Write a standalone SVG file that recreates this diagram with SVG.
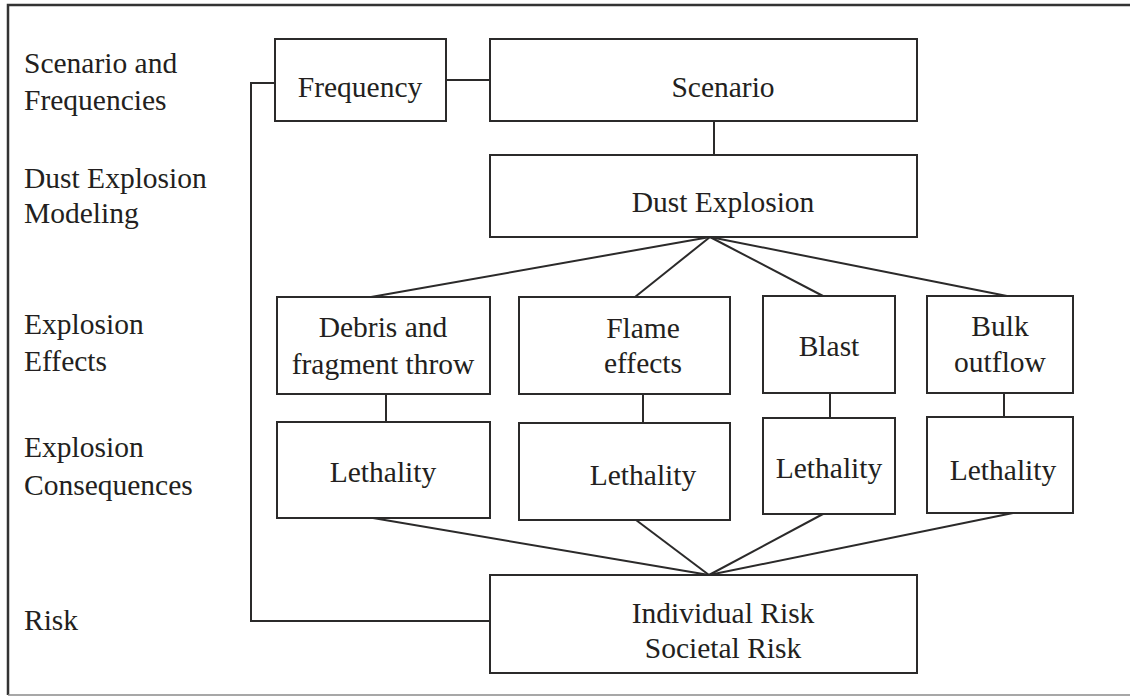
<svg xmlns="http://www.w3.org/2000/svg" width="1130" height="696" viewBox="0 0 1130 696">
  <style>
    .box { fill: #ffffff; stroke: #2b2a2a; stroke-width: 2; }
    .link { fill: none; stroke: #2b2a2a; stroke-width: 2; }
    .label { font-family: "Liberation Serif", "Times New Roman", serif; font-size: 29.5px; fill: #231f20; }
    .mid { text-anchor: middle; }
  </style>
  <rect width="1130" height="696" fill="#ffffff"/>

  <!-- outer frame -->
  <path d="M1132,5 H8 V695" fill="none" stroke="#333333" stroke-width="2.5"/>
  <path d="M8,695 H1132" fill="none" stroke="#8a8a8a" stroke-width="1.5"/>

  <!-- stage labels -->
  <g id="stage-labels" class="label">
    <text x="24" y="73">Scenario and</text>
    <text x="24" y="110">Frequencies</text>
    <text x="24" y="188">Dust Explosion</text>
    <text x="24" y="223">Modeling</text>
    <text x="24" y="334">Explosion</text>
    <text x="24" y="371">Effects</text>
    <text x="24" y="457">Explosion</text>
    <text x="24" y="495">Consequences</text>
    <text x="24" y="630">Risk</text>
  </g>

  <!-- connectors -->
  <g id="connectors" class="link">
    <line x1="446" y1="80" x2="490" y2="80"/>
    <polyline points="275,83 251,83 251,621 490,621"/>
    <line x1="714" y1="121" x2="714" y2="155"/>
    <line x1="710" y1="237" x2="371" y2="297"/>
    <line x1="710" y1="237" x2="635" y2="297"/>
    <line x1="710" y1="237" x2="823" y2="296"/>
    <line x1="710" y1="237" x2="1007" y2="296"/>
    <line x1="386" y1="394" x2="386" y2="422"/>
    <line x1="643" y1="394" x2="643" y2="423"/>
    <line x1="830" y1="393" x2="830" y2="418"/>
    <line x1="1004" y1="393" x2="1004" y2="417"/>
    <line x1="373" y1="518" x2="709" y2="575"/>
    <line x1="636" y1="520" x2="709" y2="575"/>
    <line x1="823" y1="514" x2="709" y2="575"/>
    <line x1="1013" y1="513" x2="709" y2="575"/>
  </g>

  <!-- nodes -->
  <g id="frequency">
    <rect class="box" x="275" y="39" width="171" height="82"/>
    <text class="label mid" x="360" y="97">Frequency</text>
  </g>
  <g id="scenario">
    <rect class="box" x="490" y="39" width="427" height="82"/>
    <text class="label mid" x="723" y="97">Scenario</text>
  </g>
  <g id="dust-explosion">
    <rect class="box" x="490" y="155" width="427" height="82"/>
    <text class="label mid" x="723" y="212">Dust Explosion</text>
  </g>

  <g id="debris">
    <rect class="box" x="277" y="297" width="213" height="97"/>
    <text class="label mid" x="383" y="337">Debris and</text>
    <text class="label mid" x="383" y="374">fragment throw</text>
  </g>
  <g id="flame">
    <rect class="box" x="519" y="297" width="211" height="97"/>
    <text class="label mid" x="643" y="338">Flame</text>
    <text class="label mid" x="643" y="373">effects</text>
  </g>
  <g id="blast">
    <rect class="box" x="763" y="296" width="132" height="97"/>
    <text class="label mid" x="829" y="356">Blast</text>
  </g>
  <g id="bulk-outflow">
    <rect class="box" x="927" y="296" width="146" height="97"/>
    <text class="label mid" x="1000" y="336">Bulk</text>
    <text class="label mid" x="1000" y="372">outflow</text>
  </g>

  <g id="lethality-debris">
    <rect class="box" x="277" y="422" width="213" height="96"/>
    <text class="label mid" x="383" y="482">Lethality</text>
  </g>
  <g id="lethality-flame">
    <rect class="box" x="519" y="423" width="211" height="97"/>
    <text class="label mid" x="643" y="485">Lethality</text>
  </g>
  <g id="lethality-blast">
    <rect class="box" x="763" y="418" width="132" height="96"/>
    <text class="label mid" x="829" y="478">Lethality</text>
  </g>
  <g id="lethality-bulk">
    <rect class="box" x="927" y="417" width="146" height="96"/>
    <text class="label mid" x="1003" y="480">Lethality</text>
  </g>

  <g id="risk">
    <rect class="box" x="490" y="575" width="427" height="98"/>
    <text class="label mid" x="723" y="623">Individual Risk</text>
    <text class="label mid" x="723" y="658">Societal Risk</text>
  </g>
</svg>
